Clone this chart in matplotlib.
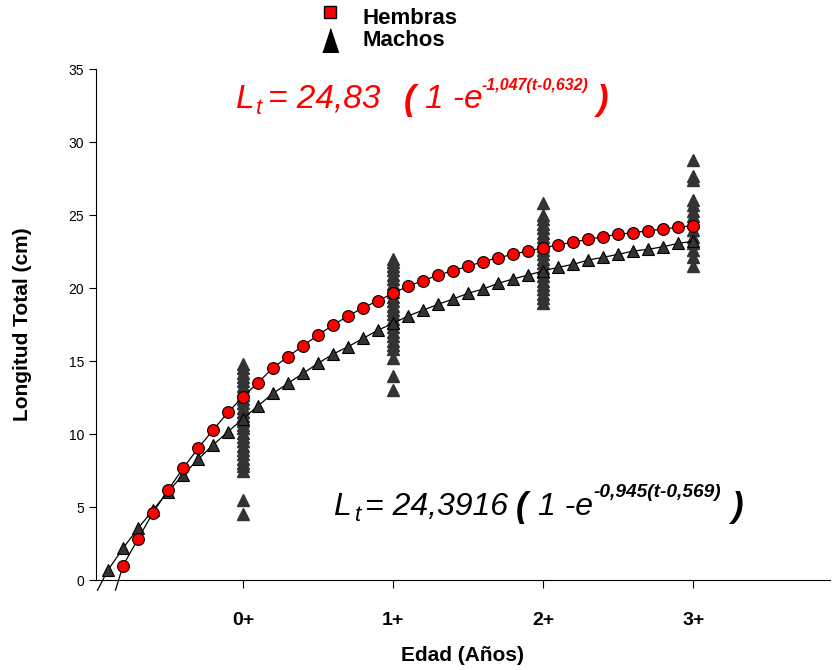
import matplotlib.pyplot as plt
from matplotlib.lines import Line2D

plt.rcParams['font.family'] = ['Liberation Sans', 'DejaVu Sans']

# curva ajustada hembras (puntos cada 0,1 año)
edad_h = [-0.8, -0.7, -0.6, -0.5, -0.4, -0.3, -0.2, -0.1, 0.0, 0.1, 0.2, 0.3, 0.4,
          0.5, 0.6, 0.7, 0.8, 0.9, 1.0, 1.1, 1.2, 1.3, 1.4, 1.5, 1.6, 1.7, 1.8,
          1.9, 2.0, 2.1, 2.2, 2.3, 2.4, 2.5, 2.6, 2.7, 2.8, 2.9, 3.0]
long_h = [0.98, 2.81, 4.61, 6.16, 7.65, 9.02, 10.27, 11.49, 12.56, 13.52, 14.54,
          15.30, 16.05, 16.78, 17.47, 18.08, 18.65, 19.13, 19.64, 20.13, 20.50,
          20.89, 21.18, 21.50, 21.80, 22.08, 22.30, 22.55, 22.74, 22.95, 23.15,
          23.33, 23.52, 23.68, 23.79, 23.92, 24.04, 24.16, 24.27]

# curva ajustada machos
edad_m = [-0.9, -0.8, -0.7, -0.6, -0.5, -0.4, -0.3, -0.2, -0.1, 0.0, 0.1, 0.2, 0.3,
          0.4, 0.5, 0.6, 0.7, 0.8, 0.9, 1.0, 1.1, 1.2, 1.3, 1.4, 1.5, 1.6, 1.7,
          1.8, 1.9, 2.0, 2.1, 2.2, 2.3, 2.4, 2.5, 2.6, 2.7, 2.8, 2.9, 3.0]
long_m = [0.68, 2.17, 3.54, 4.79, 6.05, 7.19, 8.26, 9.25, 10.16, 11.05, 11.93,
          12.79, 13.47, 14.16, 14.84, 15.48, 15.98, 16.55, 17.12, 17.58, 18.08,
          18.49, 18.88, 19.25, 19.64, 19.93, 20.32, 20.62, 20.89, 21.17, 21.42,
          21.62, 21.92, 22.10, 22.31, 22.53, 22.65, 22.83, 23.06, 23.20]

# inicio de las curvas (bajo el eje)
cola_h = (-0.85, -0.7)
cola_m = (-0.97, -0.7)

# longitudes observadas por clase de edad
obs_0 = [4.5, 5.5, 7.5, 7.8, 8.0, 8.3, 8.6, 8.9, 9.2, 9.5, 9.8, 10.1, 10.4, 10.6,
         10.9, 11.2, 11.5, 11.8, 12.1, 12.4, 12.7, 13.0, 13.3, 13.6, 13.9, 14.2,
         14.5, 14.8]
obs_1 = [13.0, 14.0, 15.2, 15.8, 16.1, 16.4, 16.7, 17.0, 17.3, 17.6, 17.9, 18.2,
         18.5, 18.8, 19.1, 19.4, 19.7, 20.0, 20.3, 20.6, 20.9, 21.2, 21.5, 21.8, 22.0]
obs_2 = [19.0, 19.3, 19.6, 19.9, 20.2, 20.5, 20.8, 21.1, 21.4, 21.7, 22.0, 22.3,
         22.6, 22.9, 23.2, 23.5, 23.8, 24.1, 24.4, 24.7, 25.0, 25.8]
obs_3 = [21.5, 22.1, 22.6, 23.1, 23.5, 24.0, 24.5, 24.9, 25.3, 25.7, 26.0, 27.4,
         27.7, 28.8]

edades = [0, 1, 2, 3]
etiquetas = ['0+', '1+', '2+', '3+']

W, H = 833, 670
fig = plt.figure(figsize=(W / 100, H / 100), dpi=100)
ax = fig.add_axes([0.1152, 0.1343, 0.881, 0.7627])


def px(x, y):
    # pixel (desde arriba-izquierda) -> coordenadas de figura
    return x / W, 1 - y / H


gris = '#333333'
for e, obs in zip(edades, [obs_0, obs_1, obs_2, obs_3]):
    ax.plot([e] * len(obs), obs, ls='', marker='^', ms=8, color=gris,
            mec=gris, zorder=2)

ax.plot([cola_m[0]] + edad_m, [cola_m[1]] + long_m, color='black', lw=0.9,
        zorder=3, clip_on=False)
ax.plot(edad_m, long_m, ls='', marker='^', ms=8.5, color=gris, mec='black',
        mew=0.8, zorder=4)
ax.plot([cola_h[0]] + edad_h, [cola_h[1]] + long_h, color='black', lw=0.9,
        zorder=5, clip_on=False)
ax.plot(edad_h, long_h, ls='', marker='o', ms=8.5, color='red', mec='black',
        mew=0.8, zorder=6)

ax.set_xlim(-0.98, 3.91)
ax.set_ylim(0, 35)
ax.set_xticks(edades)
ax.set_xticklabels(etiquetas, fontsize=14, fontweight='bold')
ax.set_yticks(range(0, 36, 5))
ax.tick_params(axis='y', labelsize=10, length=5, direction='out')
ax.tick_params(axis='x', length=6, pad=17, direction='out')
ax.spines['top'].set_visible(False)
ax.spines['right'].set_visible(False)

ax.set_xlabel('Edad (Años)', fontsize=15, fontweight='bold', labelpad=12)
ax.set_ylabel('Longitud Total (cm)', fontsize=15, fontweight='bold', labelpad=26)


def ecuacion(xs, base, const, expo, color, fs=23, fs_exp=11.5):
    # xs: inicio horizontal de cada trozo de la ecuación
    kw = dict(color=color, style='italic', va='baseline', ha='left')
    fig.text(*px(xs[0], base), 'L', fontsize=fs, **kw)
    fig.text(*px(xs[1], base + 6), 't', fontsize=16, **kw)
    fig.text(*px(xs[2], base), '= ' + const, fontsize=fs, **kw)
    fig.text(*px(xs[3], base + 2), '(', fontsize=25, fontweight='bold', **kw)
    fig.text(*px(xs[4], base), '1 -e', fontsize=fs, **kw)
    fig.text(*px(xs[5], base - 18), expo, fontsize=fs_exp, fontweight='bold', **kw)
    fig.text(*px(xs[6], base + 2), ')', fontsize=25, fontweight='bold', **kw)


ecuacion([236, 256, 268, 404, 425, 482, 596], 108, '24,83', '-1,047(t-0,632)',
         'red', fs=24)
ecuacion([333, 355, 365, 516, 538, 593, 731], 515, '24,3916', '-0,945(t-0,569)',
         'black', fs_exp=13.8)

# leyenda
fig.add_artist(Line2D([px(330, 12)[0]], [px(330, 12)[1]], ls='', marker='s',
                      ms=8, color='red', mec='black', transform=fig.transFigure))
fig.add_artist(Line2D([px(330, 40)[0]], [px(330, 40)[1]], ls='',
                      marker=[(-0.33, -0.5), (0.33, -0.5), (0, 0.5)], ms=17,
                      color='black', transform=fig.transFigure))
fig.text(*px(363, 18), 'Hembras', fontsize=16, fontweight='bold', va='center')
fig.text(*px(363, 40), 'Machos', fontsize=16, fontweight='bold', va='center')

fig.savefig('out.png', dpi=100)
